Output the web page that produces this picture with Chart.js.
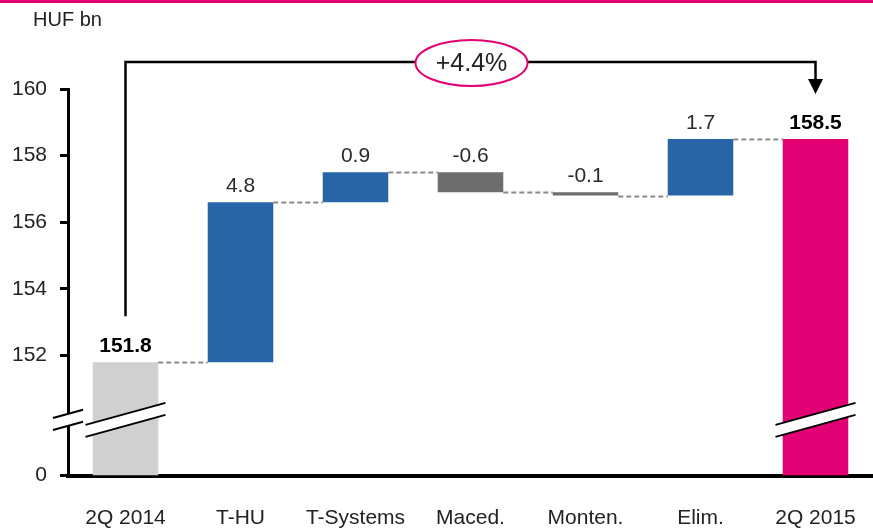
<!DOCTYPE html>
<html>
<head>
<meta charset="utf-8">
<script src="https://cdn.jsdelivr.net/npm/chart.js@4"></script>
<style>
  html, body { margin: 0; padding: 0; background: #fff; }
  #wrap { width: 873px; height: 528px; position: relative; }
</style>
</head>
<body>
<div id="wrap"><canvas id="bridge"></canvas></div>
<script>
// bridge data, HUF bn
const categories = ["2Q 2014", "T-HU", "T-Systems", "Maced.", "Monten.", "Elim.", "2Q 2015"];
const startTotal = 151.8;
const changes = [4.8, 0.9, -0.6, -0.1, 1.7];
const endTotal = 158.5;
const growthLabel = "+4.4%";
const yTickValues = [152, 154, 156, 158, 160];
const axisFloor = 148.4; // broken axis: this value is shown as 0
const unitLabel = "HUF bn";

const FONT = "'Liberation Sans', Arial, sans-serif";
const BLUE = "#2865a8", DARK = "#6d6d6d", LIGHT = "#d0d0d0", MAGENTA = "#e20074";

// build floating bars from the totals and the changes
const bars = [[axisFloor, startTotal]];
let level = startTotal;
changes.forEach(c => {
  const next = +(level + c).toFixed(1);
  bars.push([level, next]);
  level = next;
});
bars.push([axisFloor, endTotal]);

const barLabels = [startTotal.toFixed(1), ...changes.map(c => c.toFixed(1)), endTotal.toFixed(1)];
const barColors = [LIGHT, ...changes.map(c => c >= 0 ? BLUE : DARK), MAGENTA];

function drawBreak(ctx, cx, halfLen, cy) {
  const slope = -0.275, gap = 6;
  const y = x => cy + slope * (x - cx);
  const x1 = cx - halfLen, x2 = cx + halfLen;
  ctx.save();
  ctx.fillStyle = "#fff";
  ctx.beginPath();
  ctx.moveTo(x1, y(x1) - gap);
  ctx.lineTo(x2, y(x2) - gap);
  ctx.lineTo(x2, y(x2) + gap);
  ctx.lineTo(x1, y(x1) + gap);
  ctx.closePath();
  ctx.fill();
  ctx.strokeStyle = "#000";
  ctx.lineWidth = 2;
  ctx.beginPath();
  ctx.moveTo(x1, y(x1) - gap); ctx.lineTo(x2, y(x2) - gap);
  ctx.moveTo(x1, y(x1) + gap); ctx.lineTo(x2, y(x2) + gap);
  ctx.stroke();
  ctx.restore();
}

const bridgeExtras = {
  id: "bridgeExtras",
  beforeDraw(chart) {
    const ctx = chart.ctx;
    ctx.save();
    ctx.fillStyle = MAGENTA;
    ctx.fillRect(0, 0, chart.width, 3);
    ctx.fillStyle = "#222";
    ctx.font = "20px " + FONT;
    ctx.textBaseline = "middle";
    ctx.fillText(unitLabel, 33, 20);
    ctx.restore();
  },
  afterDatasetsDraw(chart) {
    const ctx = chart.ctx;
    const y = chart.scales.y;
    const els = chart.getDatasetMeta(0).data;

    // dashed connectors between bars
    ctx.save();
    ctx.strokeStyle = "#8a8a8a";
    ctx.lineWidth = 2;
    ctx.setLineDash([5, 3]);
    for (let i = 0; i < els.length - 1; i++) {
      const a = els[i], b = els[i + 1];
      const py = Math.round(y.getPixelForValue(bars[i][1])) + 0.5;
      ctx.beginPath();
      ctx.moveTo(a.x + a.width / 2, py);
      ctx.lineTo(b.x - b.width / 2, py);
      ctx.stroke();
    }
    ctx.restore();

    // value labels
    ctx.save();
    ctx.textAlign = "center";
    ctx.textBaseline = "alphabetic";
    els.forEach((el, i) => {
      const total = i === 0 || i === els.length - 1;
      ctx.font = (total ? "bold " : "") + "21px " + FONT;
      ctx.fillStyle = total ? "#000" : "#2a2a2a";
      const top = y.getPixelForValue(Math.max(bars[i][0], bars[i][1]));
      ctx.fillText(barLabels[i], el.x, top - 10);
    });
    ctx.restore();

    // axis breaks
    const breakY = y.getPixelForValue(150.07);
    drawBreak(ctx, chart.chartArea.left, 15, breakY);
    drawBreak(ctx, els[0].x, 40, breakY);
    drawBreak(ctx, els[els.length - 1].x, 40, breakY);

    // growth bracket
    const xa = els[0].x, xb = els[els.length - 1].x, yTop = 62;
    const yA = y.getPixelForValue(startTotal) - 46;
    ctx.save();
    ctx.strokeStyle = "#000";
    ctx.lineWidth = 2.5;
    ctx.beginPath();
    ctx.moveTo(xa, yA);
    ctx.lineTo(xa, yTop);
    ctx.lineTo(xb, yTop);
    ctx.lineTo(xb, 80);
    ctx.stroke();
    ctx.fillStyle = "#000";
    ctx.beginPath();
    ctx.moveTo(xb - 7.5, 79);
    ctx.lineTo(xb + 7.5, 79);
    ctx.lineTo(xb, 94);
    ctx.closePath();
    ctx.fill();

    const ex = 471.5, ey = 63;
    ctx.beginPath();
    ctx.ellipse(ex, ey, 56, 23, 0, 0, Math.PI * 2);
    ctx.fillStyle = "#fff";
    ctx.fill();
    ctx.strokeStyle = MAGENTA;
    ctx.lineWidth = 2;
    ctx.stroke();
    ctx.fillStyle = "#222";
    ctx.font = "25px " + FONT;
    ctx.textAlign = "center";
    ctx.textBaseline = "middle";
    ctx.fillText(growthLabel, ex, ey + 1);
    ctx.restore();
  }
};

new Chart(document.getElementById("bridge"), {
  type: "bar",
  data: {
    labels: categories,
    datasets: [{
      data: bars,
      backgroundColor: barColors,
      borderWidth: 0,
      borderSkipped: false,
      barPercentage: 0.57,
      categoryPercentage: 1
    }]
  },
  options: {
    responsive: true,
    maintainAspectRatio: false,
    animation: false,
    layout: { padding: { top: 89, right: -3, left: 0, bottom: 0 } },
    plugins: { legend: { display: false }, tooltip: { enabled: false } },
    scales: {
      x: {
        grid: { display: false, drawTicks: false },
        border: { display: true, color: "#000", width: 4 },
        ticks: { color: "#222", font: { family: FONT, size: 21 }, padding: 30, maxRotation: 0, autoSkip: false },
        afterFit(scale) {
          scale.height = 52.5;
          scale.paddingLeft = 0;
          scale.paddingRight = 0;
        }
      },
      y: {
        min: axisFloor,
        max: 160,
        afterBuildTicks(scale) {
          scale.ticks = [axisFloor, ...yTickValues].map(v => ({ value: v }));
        },
        afterFit(scale) { scale.width = 68; },
        grid: { drawOnChartArea: false, drawTicks: true, tickLength: 8, tickWidth: 3, tickColor: "#000" },
        border: { display: true, color: "#000", width: 3 },
        ticks: {
          color: "#222",
          font: { family: FONT, size: 21 },
          padding: 13,
          callback: v => v === axisFloor ? "0" : String(v)
        }
      }
    }
  },
  plugins: [bridgeExtras]
});
</script>
</body>
</html>
